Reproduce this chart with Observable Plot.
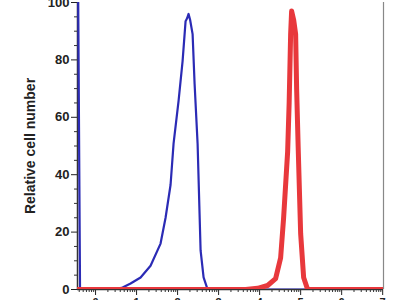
<!DOCTYPE html>
<html>
<head>
<meta charset="utf-8">
<script src="https://cdn.jsdelivr.net/npm/d3@7"></script>
<script src="https://cdn.jsdelivr.net/npm/@observablehq/plot@0.6"></script>
<style>
  html, body { margin: 0; padding: 0; background: #fff; }
  #chart { width: 400px; height: 300px; overflow: hidden; }
</style>
</head>
<body>
<div id="chart"></div>
<script>
// Fluorescence intensity (log decades) and relative cell number
const blueX = [-0.427, -0.378, 0.439, 0.659, 0.854, 1.098, 1.341, 1.585, 1.707, 1.829, 1.902, 2.024, 2.122, 2.195, 2.232, 2.268, 2.305, 2.366, 2.415, 2.488, 2.561, 2.634, 2.732, 7.02];
const blueY = [110, 0, 0, 0.7, 2.1, 4.2, 8.3, 16, 25, 36.5, 50.8, 65.7, 79.6, 93.5, 94.5, 96, 94, 89, 71.6, 50.8, 13.6, 4.2, 0, 0];
const redX = [-0.44, 3.659, 3.951, 4.195, 4.390, 4.512, 4.585, 4.683, 4.72, 4.756, 4.780, 4.829, 4.878, 4.902, 4.939, 5.0, 5.073, 5.171, 7.02];
const redY = [0, 0, 0.4, 1.4, 3.8, 11, 25, 48, 65, 89, 97, 94, 89, 70, 50, 19.5, 4.2, 0, 0];
const xMajor = [0, 1, 2, 3, 4, 5, 6, 7];
const xLabels = ["0", "1", "2", "3", "4", "5", "6", "7"];
const yMajor = [0, 20, 40, 60, 80, 100];
const yMinorStep = 5;
const xDomain = [-0.44, 7.02];
const yDomain = [0, 100];
const yTitle = "Relative cell number";

const blue = blueX.map((x, i) => ({x, y: blueY[i]}));
const red = redX.map((x, i) => ({x, y: redY[i]}));
const xMinor = [];
for (let d = -1; d <= 7; d++) for (let k = 2; k <= 9; k++) {
  const v = d + Math.log10(k);
  if (v > xDomain[0] && v < xDomain[1]) xMinor.push(v);
}
const yMinor = d3.range(yDomain[0], yDomain[1] + 1, yMinorStep).filter(v => !yMajor.includes(v));

const chart = Plot.plot({
  width: 400,
  height: 300,
  marginLeft: 77,
  marginRight: 17,
  marginTop: 2,
  marginBottom: 11,
  style: {fontFamily: "Liberation Sans, Arial, sans-serif", fontSize: "12px", fontWeight: "bold", color: "#222", background: "#fff"},
  x: {domain: xDomain},
  y: {domain: yDomain},
  marks: [
    Plot.axisX(xMinor, {tickSize: 3, tickFormat: () => "", stroke: "#333", label: null}),
    Plot.axisX(xMajor, {tickSize: 6, tickFormat: (d) => xLabels[xMajor.indexOf(d)], stroke: "#222", label: null, fontSize: 11}),
    Plot.axisY(yMinor, {tickSize: 3, tickFormat: () => "", stroke: "#333", label: null}),
    Plot.axisY(yMajor, {tickSize: 6, tickPadding: 2, stroke: "#222", label: yTitle, labelAnchor: "center", labelArrow: "none", labelOffset: 52, fontSize: 13}),
    Plot.ruleX([xDomain[1]], {stroke: "#888", strokeWidth: 1.2}),
    Plot.ruleX([xDomain[0]], {stroke: "#333", strokeWidth: 1.5}),
    Plot.ruleY([0], {stroke: "#333", strokeWidth: 1.5}),
    Plot.line(blue, {x: "x", y: "y", stroke: "#2b2bb5", strokeWidth: 2.2, clip: true}),
    Plot.line(red, {x: "x", y: "y", stroke: "#e8383c", strokeWidth: 5, strokeLinejoin: "round", clip: true})
  ]
});
document.getElementById("chart").appendChild(chart);
// enlarge the axis title
chart.querySelectorAll("g[aria-label='y-axis label'] text").forEach(t => t.setAttribute("font-size", "14"));
</script>
</body>
</html>
